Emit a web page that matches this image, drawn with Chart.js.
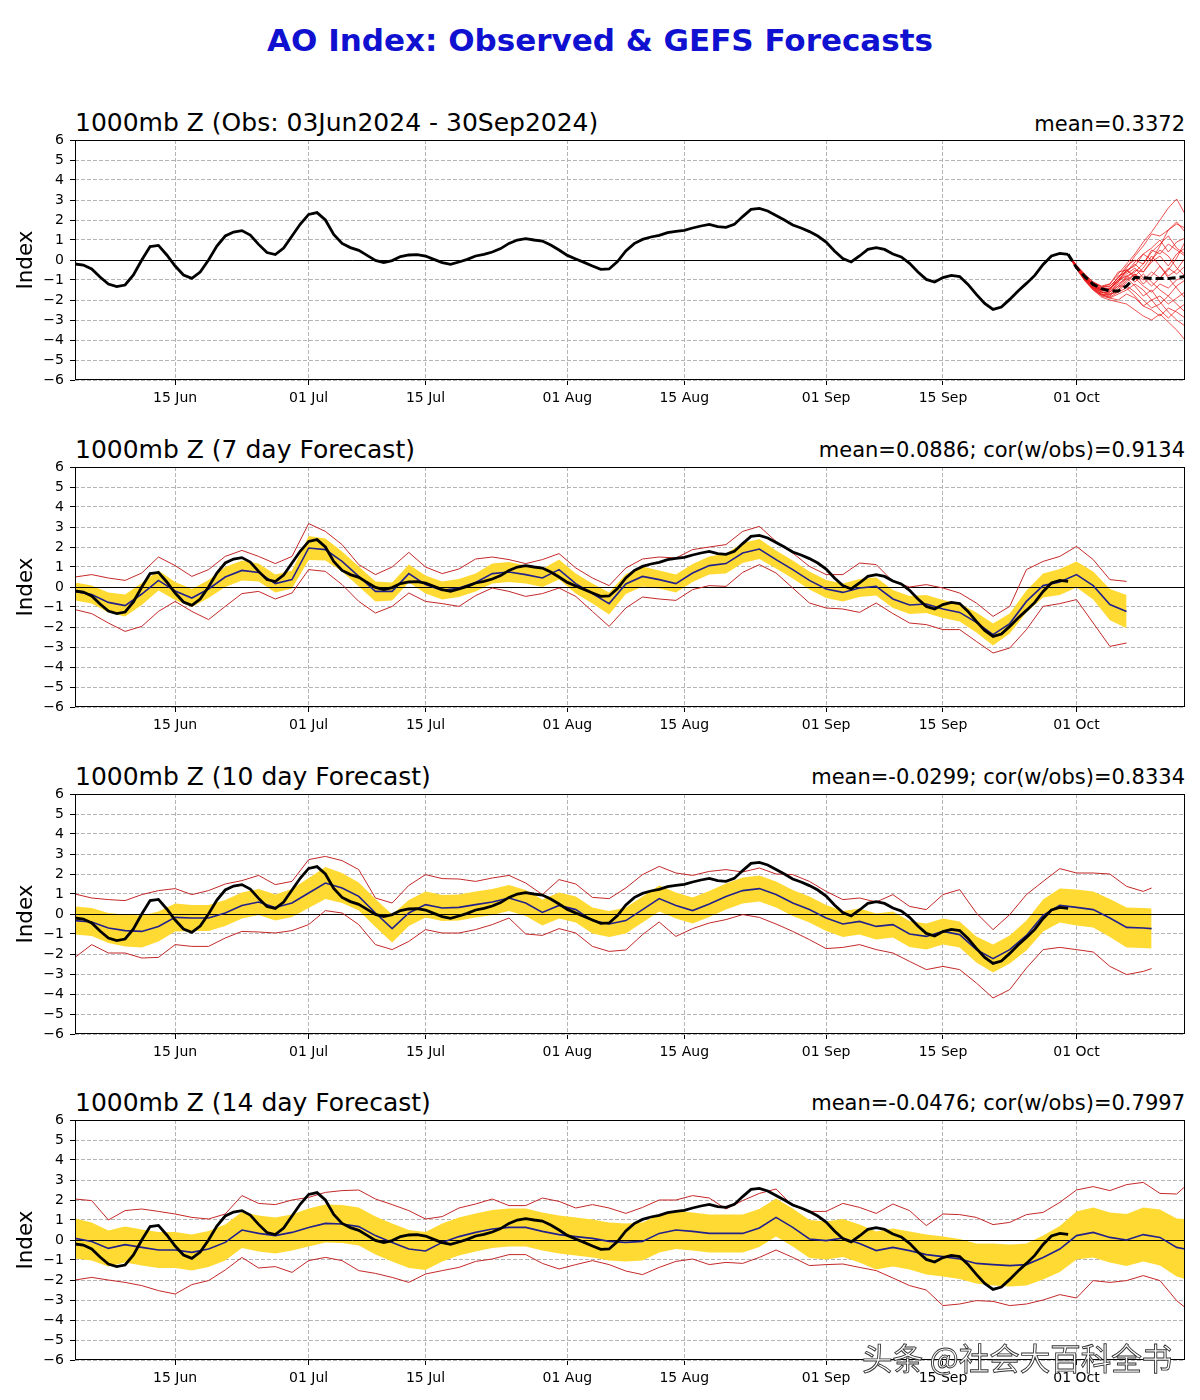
<!DOCTYPE html>
<html><head><meta charset="utf-8">
<script src="https://cdn.jsdelivr.net/npm/chart.js@4.4.1/dist/chart.umd.min.js"></script>
<style>
body{margin:0;background:#fff;width:1200px;height:1400px;position:relative;overflow:hidden;font-family:'DejaVu Sans',sans-serif}
canvas{position:absolute;left:0}
.lt{position:absolute;left:75px;font-size:25px;line-height:30px;white-space:nowrap;color:#000}
.rt{position:absolute;right:15px;font-size:21px;line-height:25px;white-space:nowrap;color:#000}
#main{position:absolute;top:22px;left:0;width:1200px;text-align:center;font-weight:bold;font-size:31px;line-height:36px;color:#1010d0}
#wm{position:absolute;left:862px;top:1338px;font-family:'Noto Sans CJK SC',sans-serif;font-size:30.5px;line-height:38px;color:#fff;-webkit-text-stroke:0.9px #333;white-space:nowrap;z-index:5}
</style></head><body>
<div id="main">AO Index: Observed &amp; GEFS Forecasts</div>
<div class="lt" style="top:108px">1000mb Z (Obs: 03Jun2024 - 30Sep2024)</div>
<div class="rt" style="top:112px">mean=0.3372</div>
<div class="lt" style="top:435px">1000mb Z (7 day Forecast)</div>
<div class="rt" style="top:438px">mean=0.0886; cor(w/obs)=0.9134</div>
<div class="lt" style="top:762px">1000mb Z (10 day Forecast)</div>
<div class="rt" style="top:765px">mean=-0.0299; cor(w/obs)=0.8334</div>
<div class="lt" style="top:1088px">1000mb Z (14 day Forecast)</div>
<div class="rt" style="top:1091px">mean=-0.0476; cor(w/obs)=0.7997</div>
<div id="wm">头条 @社会大百科全书</div>
<canvas id="c1" width="1200" height="290" style="top:130px"></canvas>
<canvas id="c2" width="1200" height="290" style="top:457px"></canvas>
<canvas id="c3" width="1200" height="290" style="top:784px"></canvas>
<canvas id="c4" width="1200" height="290" style="top:1110px"></canvas>
<script>
// ---- axis ticks (x = days since 03 Jun 2024) ----
const tickDays = [12, 28, 42, 59, 73, 90, 104, 120];
const tickLabels = ['15 Jun', '01 Jul', '15 Jul', '01 Aug', '15 Aug', '01 Sep', '15 Sep', '01 Oct'];
const yTicks = [-6, -5, -4, -3, -2, -1, 0, 1, 2, 3, 4, 5, 6];

// ---- observed AO, daily, 03 Jun (day 0) .. 30 Sep (day 119) ----
const obsValues = [
 -0.2,-0.25,-0.45,-0.85,-1.2,-1.33,-1.25,-0.75,0.0,0.67,
 0.73,0.25,-0.3,-0.75,-0.92,-0.6,0.0,0.7,1.2,1.4,
 1.47,1.25,0.78,0.37,0.27,0.6,1.2,1.8,2.28,2.37,
 2.0,1.28,0.83,0.62,0.48,0.23,-0.02,-0.13,-0.03,0.17,
 0.25,0.27,0.2,0.03,-0.13,-0.22,-0.1,0.03,0.2,0.28,
 0.4,0.57,0.83,1.0,1.07,1.0,0.95,0.75,0.5,0.23,
 0.05,-0.12,-0.3,-0.47,-0.45,-0.08,0.45,0.82,1.03,1.15,
 1.23,1.37,1.43,1.48,1.6,1.7,1.78,1.67,1.63,1.78,
 2.17,2.53,2.58,2.45,2.23,2.0,1.75,1.6,1.42,1.2,
 0.9,0.45,0.07,-0.1,0.2,0.53,0.62,0.53,0.3,0.15,
 -0.17,-0.6,-0.97,-1.1,-0.88,-0.77,-0.83,-1.22,-1.72,-2.17,
 -2.47,-2.35,-1.97,-1.55,-1.17,-0.77,-0.22,0.2,0.33,0.28
];

// ---- GEFS ensemble (panel 1), days 119..133 ----
const ensDays = [119,120,121,122,123,124,125,126,127,128,129,130,131,132,133];
const ensMean = [0.28,-0.38,-0.83,-1.22,-1.43,-1.55,-1.55,-1.3,-0.88,-0.88,-0.93,-0.93,-0.92,-0.88,-0.83];
const ensMembers = [
 [0.28,-0.25,-0.7,-1.1,-1.3,-1.2,-0.7,-0.2,0.3,0.9,1.4,2.0,2.6,3.05,2.3],
 [0.28,-0.3,-0.8,-1.2,-1.4,-1.3,-0.9,-0.4,0.2,0.7,1.3,1.2,1.5,1.8,1.6],
 [0.28,-0.35,-0.9,-1.3,-1.5,-1.4,-1.1,-0.5,-0.3,0.3,0.6,1.0,0.4,0.9,1.1],
 [0.28,-0.3,-0.85,-1.25,-1.5,-1.6,-1.3,-0.8,-0.6,-0.2,0.5,0.3,0.8,0.5,0.2],
 [0.28,-0.4,-0.95,-1.4,-1.7,-1.8,-1.4,-0.9,-0.5,-0.6,-0.1,0.2,-0.3,0.3,0.6],
 [0.28,-0.35,-0.9,-1.35,-1.6,-1.7,-1.6,-1.1,-0.7,-1.0,-0.6,-0.9,-0.4,-0.7,-0.3],
 [0.28,-0.3,-0.8,-1.2,-1.45,-1.5,-1.0,-0.5,-0.9,-1.3,-1.6,-1.2,-1.4,-1.0,-0.8],
 [0.28,-0.4,-1.0,-1.45,-1.8,-1.9,-1.7,-1.5,-1.2,-1.5,-2.0,-1.8,-2.2,-1.9,-1.6],
 [0.28,-0.35,-0.95,-1.4,-1.7,-1.9,-2.0,-1.7,-1.9,-2.3,-2.5,-2.8,-2.4,-2.6,-2.9],
 [0.28,-0.45,-1.05,-1.5,-1.85,-2.0,-2.1,-2.2,-2.5,-2.8,-3.0,-2.7,-3.1,-3.5,-4.0],
 [0.28,-0.3,-0.85,-1.3,-1.6,-1.6,-1.2,-0.9,-1.3,-1.8,-1.5,-2.1,-2.6,-3.0,-3.3],
 [0.28,-0.35,-0.9,-1.3,-1.5,-1.5,-0.8,-0.6,-0.2,-0.6,0.0,0.5,0.2,-0.4,-0.8],
 [0.28,-0.3,-0.85,-1.25,-1.45,-1.4,-1.0,-0.8,-1.1,-0.7,-1.1,-1.5,-1.8,-1.3,-1.0],
 [0.28,-0.4,-1.0,-1.5,-1.75,-1.7,-1.3,-1.3,-1.6,-2.0,-2.4,-2.2,-1.8,-2.2,-2.6],
 [0.28,-0.3,-0.75,-1.1,-1.35,-1.3,-0.9,-0.3,0.0,-0.2,0.4,0.8,1.2,0.6,0.3],
 [0.28,-0.35,-0.9,-1.35,-1.6,-1.75,-1.5,-1.0,-0.7,-1.2,-0.8,-0.3,-0.9,-1.4,-1.9],
 [0.28,-0.4,-0.95,-1.4,-1.65,-1.6,-1.1,-0.7,-0.4,-0.9,-1.3,-0.9,-0.5,0.1,0.9],
 [0.28,-0.3,-0.8,-1.15,-1.35,-1.2,-0.6,-0.5,-0.8,-0.4,0.2,-0.3,-0.8,-0.5,0.1],
 [0.28,-0.45,-1.0,-1.45,-1.75,-1.85,-1.6,-1.4,-1.8,-2.3,-2.0,-2.5,-2.9,-2.5,-2.2],
 [0.28,-0.3,-0.85,-1.3,-1.55,-1.45,-1.0,-0.6,-0.1,0.3,0.0,0.7,1.5,1.9,1.4]
];

// ---- 7 day forecast (panel 2) ----
const p2Days = [0,2,4,6,8,10,12,14, 16,18,20,22,24,26,28,30, 32,34,36,38,40,42,44,46, 48,50,52,54,56,58,60,62,
 64,66,68,70,72,74,76,78, 80,82,84,86,88,90,92,94, 96,98,100,102,104,106,108,110, 112,114,116,118,120,122,124,126];
const p2Mean = [-0.22,-0.38,-0.77,-0.93,-0.35,0.33,-0.2,-0.55, -0.1,0.5,0.83,0.73,0.17,0.37,1.95,1.87,
 1.28,0.53,-0.22,-0.22,0.67,0.12,-0.17,-0.05, 0.23,0.67,0.75,0.62,0.45,0.87,0.17,-0.33,
 -0.83,0.15,0.53,0.37,0.17,0.7,1.07,1.17, 1.7,1.9,1.37,0.87,0.33,-0.1,-0.27,-0.05,
 0.03,-0.6,-0.9,-0.85,-1.1,-1.27,-1.77,-2.38, -1.83,-0.72,0.07,0.25,0.62,0.07,-0.88,-1.23];
const p2Spread = [0.45,0.45,0.5,0.55,0.55,0.5,0.45,0.45, 0.45,0.5,0.5,0.45,0.45,0.45,0.6,0.55,
 0.5,0.5,0.5,0.45,0.45,0.45,0.45,0.45, 0.45,0.5,0.5,0.45,0.45,0.5,0.5,0.5,
 0.55,0.5,0.5,0.45,0.45,0.45,0.45,0.5, 0.5,0.5,0.45,0.45,0.45,0.45,0.45,0.45,
 0.45,0.45,0.45,0.45,0.45,0.45,0.5,0.55, 0.5,0.55,0.6,0.65,0.65,0.7,0.78,0.83];
const p2Max = [0.5,0.62,0.45,0.33,0.7,1.5,1.07,0.53, 0.87,1.53,1.83,1.53,1.17,1.53,3.17,2.78,
 2.12,1.12,0.62,1.0,1.73,1.0,0.67,0.9, 1.4,1.5,1.37,1.17,1.37,1.67,0.95,0.45,
 0.07,0.95,1.4,1.5,1.45,1.87,2.0,2.12, 2.78,3.03,2.28,1.7,1.03,0.62,0.62,1.2,
 1.12,0.28,0.0,0.12,-0.05,-0.3,-0.8,-1.47, -0.97,0.87,1.28,1.53,2.03,1.37,0.37,0.28];
const p2Min = [-1.13,-1.33,-1.8,-2.22,-1.97,-1.22,-0.72,-1.22, -1.63,-0.97,-0.33,-0.22,-0.6,-0.3,0.87,0.78,
 0.12,-0.72,-1.3,-0.97,-0.3,-0.72,-0.83,-0.97, -0.43,-0.05,-0.22,-0.47,-0.33,-0.05,-0.47,-1.22,
 -1.97,-1.05,-0.5,-0.6,-0.67,-0.13,0.07,0.03, 0.73,1.12,0.7,-0.05,-0.8,-1.05,-1.1,-1.27,
 -0.8,-1.33,-1.8,-1.88,-2.13,-2.13,-2.72,-3.3, -3.05,-2.13,-0.97,-0.83,-0.63,-1.8,-2.97,-2.8];

// ---- 10 day forecast (panel 3) ----
const p3Days = [0,2,4,6,8,10,12,14, 16,18,20,22,24,26,28,30, 32,34,36,38,40,42,44,46, 48,50,52,54,56,58,60,62,
 64,66,68,70,72,74,76,78, 80,82,84,86,88,90,92,94, 96,98,100,102,104,106,108,110, 112,114,116,118,120,122,124,126, 128,129];
const p3Mean = [-0.33,-0.4,-0.7,-0.83,-0.87,-0.62,-0.17,-0.2, -0.2,0.05,0.43,0.6,0.33,0.55,1.05,1.55,
 1.3,0.88,0.05,-0.73,0.05,0.47,0.3,0.33, 0.47,0.6,0.8,0.55,0.08,0.43,0.22,-0.33,
 -0.5,-0.33,0.22,0.77,0.43,0.17,0.5,0.88, 1.17,1.27,0.97,0.55,0.22,-0.2,-0.5,-0.37,
 -0.62,-0.53,-1.0,-1.12,-0.87,-1.03,-1.78,-2.23, -1.78,-1.07,-0.07,0.43,0.33,0.22,-0.2,-0.67, -0.7,-0.73];
const p3Spread = [0.7,0.7,0.75,0.8,0.8,0.75,0.7,0.65, 0.65,0.65,0.65,0.65,0.65,0.7,0.75,0.8,
 0.75,0.7,0.7,0.7,0.65,0.65,0.65,0.65, 0.65,0.65,0.65,0.65,0.65,0.65,0.65,0.65,
 0.65,0.65,0.65,0.65,0.65,0.65,0.65,0.65, 0.65,0.65,0.65,0.65,0.65,0.65,0.65,0.65,
 0.65,0.65,0.65,0.65,0.65,0.65,0.65,0.7, 0.7,0.75,0.8,0.85,0.9,0.9,0.95,1.0, 1.0,1.0];
const p3Max = [1.0,0.8,0.72,0.67,0.97,1.17,1.27,0.97, 1.17,1.5,1.67,1.93,1.47,1.63,2.72,2.88,
 2.67,2.22,0.8,0.55,1.43,1.97,1.77,1.75, 1.63,1.8,1.93,1.55,0.97,1.72,1.5,0.83,
 0.77,1.3,1.97,2.38,2.05,1.93,2.13,2.22, 2.1,2.3,2.0,1.97,1.63,1.13,0.72,0.8,
 0.6,0.97,0.38,0.22,0.97,1.22,0.05,-0.78, -0.03,0.97,1.63,2.27,2.05,2.05,2.0,1.38, 1.13,1.3];
const p3Min = [-2.17,-1.53,-1.95,-1.95,-2.2,-2.17,-1.53,-1.62, -1.62,-1.2,-0.87,-0.9,-0.95,-0.83,-0.53,0.17,
 0.05,-0.53,-1.53,-1.78,-1.37,-0.78,-0.95,-0.95, -0.78,-0.53,-0.2,-1.0,-1.07,-0.73,-0.95,-1.62,
 -1.87,-1.8,-1.03,-0.4,-1.12,-0.73,-0.45,-0.28, -0.03,-0.17,-0.5,-0.87,-1.28,-1.73,-1.67,-1.53,
 -1.78,-1.95,-2.37,-2.78,-2.62,-2.78,-3.45,-4.2, -3.78,-2.7,-1.78,-1.67,-1.78,-1.9,-2.62,-3.03, -2.87,-2.73];

// ---- 14 day forecast (panel 4) ----
const p4Days = [0,2,4,6,8,10,12,14, 16,18,20,22,24,26,28,30, 32,34,36,38,40,42,44,46, 48,50,52,54,56,58,60,62,
 64,66,68,70,72,74,76,78, 80,82,84,86,88,90,92,94, 96,98,100,102,104,106,108,110, 112,114,116,118,120,122,124,126, 128,130,132,133];
const p4Mean = [0.08,-0.07,-0.42,-0.23,-0.37,-0.5,-0.5,-0.62, -0.45,-0.12,0.5,0.33,0.22,0.38,0.63,0.83,
 0.8,0.67,0.22,-0.12,-0.45,-0.55,-0.12,0.17, 0.38,0.55,0.63,0.63,0.43,0.27,0.17,0.08,
 -0.07,-0.12,-0.07,0.33,0.5,0.43,0.33,0.33, 0.33,0.6,1.13,0.63,0.05,-0.03,0.1,-0.17,
 -0.53,-0.37,-0.53,-0.73,-0.83,-0.95,-1.17,-1.23, -1.28,-1.23,-0.87,-0.45,0.22,0.38,0.13,0.0, 0.27,0.13,-0.37,-0.45];
const p4Spread = [1.0,0.95,0.9,0.9,0.9,0.9,0.9,0.9, 0.9,0.9,0.9,0.9,0.9,0.9,0.95,0.95,
 0.95,0.95,0.95,0.95,0.95,0.95,0.95,0.95, 0.95,0.95,0.95,0.95,0.95,0.95,0.95,0.95,
 0.95,0.95,0.95,0.95,0.95,0.95,0.95,0.95, 0.95,0.95,0.95,0.95,0.95,0.95,0.95,0.95,
 0.95,0.95,0.95,1.0,1.0,1.0,1.0,1.05, 1.05,1.05,1.1,1.15,1.2,1.25,1.25,1.3, 1.35,1.4,1.45,1.5];
const p4Max = [2.05,1.97,1.0,1.47,1.55,1.43,1.3,1.13, 1.05,1.3,2.22,1.83,1.77,2.0,2.13,2.38,
 2.47,2.5,2.05,1.77,1.47,1.05,1.17,1.6, 1.8,2.05,1.72,1.72,2.1,1.93,1.6,1.77,
 1.6,1.33,1.63,2.0,2.0,2.22,2.1,1.55, 1.97,2.33,2.55,1.72,1.43,1.43,1.83,1.63,
 1.33,1.8,1.47,0.72,1.3,1.27,1.13,0.77, 0.88,1.27,1.38,1.88,2.5,2.67,2.47,2.77, 2.88,2.33,2.3,2.67];
const p4Min = [-2.0,-1.87,-2.0,-2.12,-2.28,-2.53,-2.7,-2.23, -2.03,-1.5,-0.87,-1.4,-1.33,-1.62,-1.03,-0.87,
 -1.03,-1.53,-1.67,-1.87,-2.12,-1.7,-1.53,-1.37, -1.07,-0.95,-0.73,-0.73,-1.17,-1.45,-1.23,-1.03,
 -1.23,-1.55,-1.73,-1.37,-1.07,-0.95,-1.23,-1.12, -1.17,-0.87,-0.5,-0.87,-1.28,-1.23,-1.2,-1.37,
 -1.53,-1.9,-2.28,-2.5,-3.28,-3.2,-3.03,-3.07, -3.28,-3.2,-3.0,-2.73,-2.9,-2.03,-2.12,-2.03, -1.78,-2.03,-3.03,-3.37];

// ---------------------------------------------------------------
const FONT = "'DejaVu Sans', sans-serif";
const C_OBS = '#000000', C_MEAN = '#22208a', C_EXT = '#c42828', C_BAND = '#ffda33', C_ENS = 'rgba(232,15,15,0.72)';

const pts = (xs, ys) => ys.map((y, i) => ({x: xs[i], y}));
const obsPts = obsValues.map((y, i) => ({x: i, y}));

const framePlugin = {
  id: 'frame',
  beforeDatasetsDraw(chart, args, opts) { if (opts.zeroAfter === -1) drawZero(chart); },
  afterDatasetDraw(chart, args, opts) { if (opts.zeroAfter === args.index) drawZero(chart); },
  afterDraw(chart) {
    const {ctx, chartArea: a} = chart;
    ctx.save();
    ctx.strokeStyle = '#000'; ctx.lineWidth = 1; ctx.setLineDash([]);
    ctx.strokeRect(Math.round(a.left) + 0.5, Math.round(a.top) + 0.5, Math.round(a.right - a.left) - 1, Math.round(a.bottom - a.top) - 1);
    ctx.restore();
  }
};
function drawZero(chart) {
  const {ctx, chartArea: a} = chart;
  const y = Math.round(chart.scales.y.getPixelForValue(0)) + 0.5;
  ctx.save();
  ctx.strokeStyle = '#000'; ctx.lineWidth = 1; ctx.setLineDash([]);
  ctx.beginPath(); ctx.moveTo(a.left, y); ctx.lineTo(a.right, y); ctx.stroke();
  ctx.restore();
}

function gridOpts() {
  return {color: '#b4b4b4', lineWidth: 1, tickColor: '#000', tickLength: 5, tickBorderDash: [], drawTicks: true};
}
function makeOptions(zeroAfter) {
  return {
    responsive: false, animation: false, events: [],
    layout: {padding: {top: 10, right: 15, left: 0, bottom: 0}},
    plugins: {legend: {display: false}, tooltip: {enabled: false}, frame: {zeroAfter}},
    elements: {point: {radius: 0}, line: {tension: 0}},
    scales: {
      x: {
        type: 'linear', min: 0, max: 133,
        afterBuildTicks: s => { s.ticks = tickDays.map(v => ({value: v})); },
        afterFit: s => { s.height = 40; s.paddingLeft = 0; s.paddingRight = 0; },
        ticks: {autoSkip: false, maxRotation: 0, padding: 5, color: '#000', font: {family: FONT, size: 14},
                callback: v => tickLabels[tickDays.indexOf(v)]},
        grid: gridOpts(),
        border: {display: false, dash: [4, 2]}
      },
      y: {
        type: 'linear', min: -6, max: 6,
        afterBuildTicks: s => { s.ticks = yTicks.map(v => ({value: v})); },
        afterFit: s => { s.width = 75; s.paddingTop = 0; s.paddingBottom = 0; },
        ticks: {padding: 6, color: '#000', font: {family: FONT, size: 14},
                callback: v => v < 0 ? '\u2212' + (-v) : String(v)},
        grid: gridOpts(),
        border: {display: false, dash: [4, 2]},
        title: {display: true, text: 'Index', color: '#000', font: {family: FONT, size: 21.5}, padding: {top: 14, bottom: 0}}
      }
    }
  };
}
const ln = (data, color, width, extra) => Object.assign({data, borderColor: color, borderWidth: width, pointRadius: 0, fill: false, tension: 0}, extra || {});

// Panel 1: observations + ensemble
const p1Sets = [
  ln(pts(ensDays, ensMean), '#000', 3, {borderDash: [8, 4]}),
  ln(obsPts, C_OBS, 2.8)
].concat(ensMembers.map(m => ln(pts(ensDays, m), C_ENS, 1)));
new Chart(document.getElementById('c1'), {type: 'line', data: {datasets: p1Sets}, options: makeOptions(-1), plugins: [framePlugin]});

function forecastChart(id, days, mean, spread, mx, mn) {
  const sets = [
    ln(obsPts, C_OBS, 2.8),
    ln(pts(days, mean), C_MEAN, 1.6),
    ln(pts(days, mx), C_EXT, 1),
    ln(pts(days, mn), C_EXT, 1),
    ln(pts(days, mean.map((m, i) => m + spread[i])), 'rgba(0,0,0,0)', 0, {fill: '+1', backgroundColor: C_BAND}),
    ln(pts(days, mean.map((m, i) => m - spread[i])), 'rgba(0,0,0,0)', 0)
  ];
  new Chart(document.getElementById(id), {type: 'line', data: {datasets: sets}, options: makeOptions(4), plugins: [framePlugin]});
}
forecastChart('c2', p2Days, p2Mean, p2Spread, p2Max, p2Min);
forecastChart('c3', p3Days, p3Mean, p3Spread, p3Max, p3Min);
forecastChart('c4', p4Days, p4Mean, p4Spread, p4Max, p4Min);
</script>
</body></html>
